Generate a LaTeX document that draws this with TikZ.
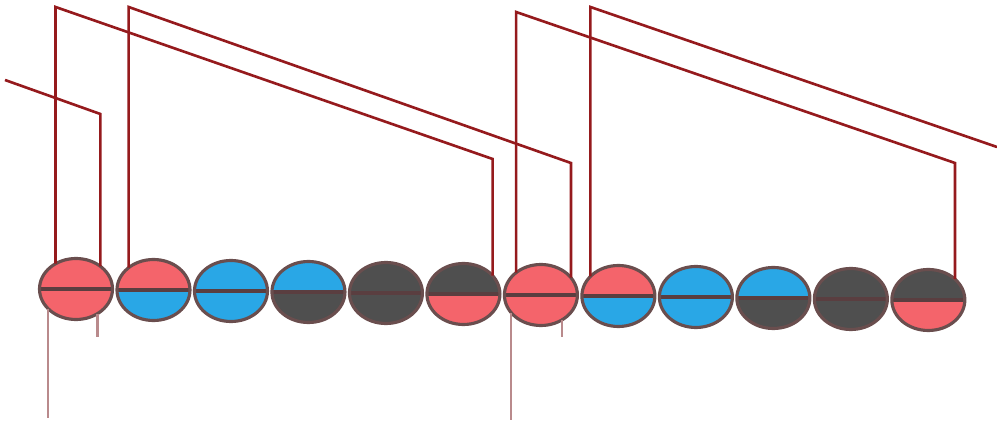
\documentclass[tikz,border=0pt]{standalone}
\usepackage{xcolor}
\usepackage{tikz}
\usetikzlibrary{shapes.geometric,positioning}

\definecolor{discred}{HTML}{F4646B}
\definecolor{discblue}{HTML}{29A7E6}
\definecolor{discgray}{HTML}{4F4F4F}
\definecolor{discedge}{HTML}{6A4E4E}
\definecolor{discline}{HTML}{5A3E40}
\definecolor{wirered}{HTML}{951A1D}
\definecolor{leadpink}{HTML}{B98A8C}

\begin{document}
\begin{tikzpicture}[
    x=0.02cm, y=-0.02cm,
    disc/.style={ellipse, draw=discedge, line width=1.8pt, minimum width=1.46cm,
                 minimum height=1.22cm, inner sep=0pt, outer sep=0pt},
    halves/.style 2 args={path picture={
        \fill[#1] (path picture bounding box.north west) rectangle (path picture bounding box.east);
        \fill[#2] (path picture bounding box.west) rectangle (path picture bounding box.south east);
        \draw[discline, line width=2pt] (path picture bounding box.west) -- (path picture bounding box.east);}},
    wire/.style={draw=wirered, line width=1.5pt, line join=miter},
    lead/.style={draw=leadpink, line width=1.2pt}
]
\useasboundingbox (0,0) rectangle (997,425);

\node[disc, halves={discred}{discred}] (c1) at (76,289) {};
\node[disc, halves={discred}{discblue}, right=0.09cm of c1, yshift=-0.2mm] (c2) {};
\node[disc, halves={discblue}{discblue}, right=0.09cm of c2, yshift=-0.2mm] (c3) {};
\node[disc, halves={discblue}{discgray}, right=0.09cm of c3, yshift=-0.2mm] (c4) {};
\node[disc, halves={discgray}{discgray}, right=0.09cm of c4, yshift=-0.2mm] (c5) {};
\node[disc, halves={discgray}{discred}, right=0.09cm of c5, yshift=-0.2mm] (c6) {};
\node[disc, halves={discred}{discred}, right=0.09cm of c6, yshift=-0.2mm] (c7) {};
\node[disc, halves={discred}{discblue}, right=0.09cm of c7, yshift=-0.2mm] (c8) {};
\node[disc, halves={discblue}{discblue}, right=0.09cm of c8, yshift=-0.2mm] (c9) {};
\node[disc, halves={discblue}{discgray}, right=0.09cm of c9, yshift=-0.2mm] (c10) {};
\node[disc, halves={discgray}{discgray}, right=0.09cm of c10, yshift=-0.2mm] (c11) {};
\node[disc, halves={discgray}{discred}, right=0.09cm of c11, yshift=-0.2mm] (c12) {};

\coordinate (inleft) at (5,80);
\coordinate (outright) at (997,147);

\draw[wire] (inleft) -- (c1.43 |- 0,114) -- (c1.43);
\draw[wire] (c1.129) -- (c1.129 |- 0,7) -- (c6.32 |- 0,159) -- (c6.32);
\draw[wire] (c2.138) -- (c2.138 |- 0,7) -- (c7.30 |- 0,163) -- (c7.30);
\draw[wire] (c7.138) -- (c7.138 |- 0,12) -- (c12.38 |- 0,163) -- (c12.38);
\draw[wire] (c8.145) -- (c8.145 |- 0,7) -- (outright);

\draw[lead] (c1.215) -- (c1.215 |- 0,418);
\draw[lead] (c1.311) -- (c1.311 |- 0,337);
\draw[lead] (c7.211) -- (c7.211 |- 0,420);
\draw[lead] (c7.311) -- (c7.311 |- 0,337);
\end{tikzpicture}
\end{document}
